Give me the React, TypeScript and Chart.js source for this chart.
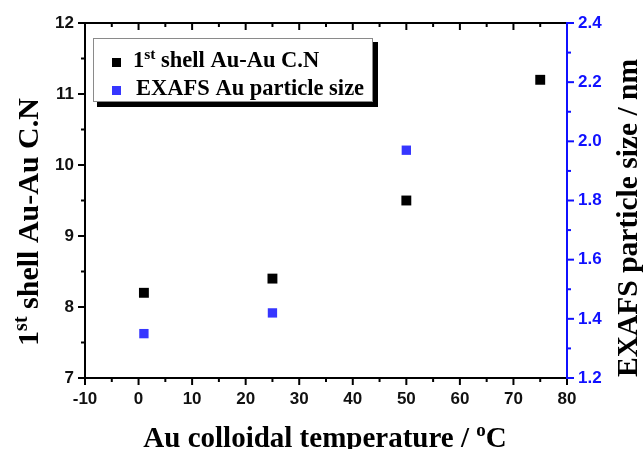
import React, { useEffect, useRef } from 'react';
import { Chart, registerables } from 'chart.js';

Chart.register(...registerables);

// ---- data ----
const cnTemperatures = [1, 25, 50, 75];
const coordinationNumbers = [8.2, 8.4, 9.5, 11.2];
const sizeTemperatures = [1, 25, 50];
const particleSizes = [1.35, 1.42, 1.97];

// ---- axis ranges / ticks ----
const xRange = [-10, 80];
const xStep = 10;
const leftRange = [7, 12];
const leftStep = 1;
const rightRange = [1.2, 2.4];
const rightStep = 0.2;

// ---- texts ----
const xTitleParts = [
  { text: 'Au colloidal temperature / ' },
  { text: 'o', sup: true },
  { text: 'C' },
];
const leftTitleParts = [
  { text: '1' },
  { text: 'st', sup: true },
  { text: ' shell Au-Au C.N' },
];
const rightTitleParts = [{ text: 'EXAFS particle size / nm' }];
const legendCnParts = [
  { text: '1' },
  { text: 'st', sup: true },
  { text: ' shell Au-Au C.N' },
];
const legendSizeParts = [{ text: 'EXAFS Au particle size' }];

const BLACK = '#000000';
const BLUE_POINT = '#3636ff';
const BLUE_AXIS = '#1010ff';
const SERIF = '"Liberation Serif", "Times New Roman", serif';
const SANS = '"Liberation Sans", Arial, sans-serif';

type Part = { text: string; sup?: boolean };

function richWidth(ctx: CanvasRenderingContext2D, parts: Part[], big: number, small: number) {
  let w = 0;
  for (const p of parts) {
    ctx.font = `bold ${p.sup ? small : big}px ${SERIF}`;
    w += ctx.measureText(p.text).width;
  }
  return w;
}

function drawRich(
  ctx: CanvasRenderingContext2D,
  parts: Part[],
  x: number,
  y: number,
  big: number,
  small: number,
  rise: number,
  align: 'left' | 'center',
) {
  const total = richWidth(ctx, parts, big, small);
  let cx = align === 'center' ? x - total / 2 : x;
  ctx.textAlign = 'left';
  ctx.textBaseline = 'alphabetic';
  for (const p of parts) {
    ctx.font = `bold ${p.sup ? small : big}px ${SERIF}`;
    ctx.fillText(p.text, cx, p.sup ? y - rise : y);
    cx += ctx.measureText(p.text).width;
  }
}

const framePlugin = {
  id: 'frame',
  afterDraw(chart: any) {
    const { ctx, chartArea: a, scales } = chart;
    const sx = scales.x;
    const sy = scales.y;
    const sy1 = scales.y1;
    ctx.save();
    ctx.lineCap = 'butt';
    ctx.lineWidth = 2;

    const line = (x1: number, y1: number, x2: number, y2: number, color: string) => {
      ctx.strokeStyle = color;
      ctx.beginPath();
      ctx.moveTo(x1, y1);
      ctx.lineTo(x2, y2);
      ctx.stroke();
    };
    const withMinor = (ticks: any[]) => {
      const out: { v: number; major: boolean }[] = [];
      for (let i = 0; i < ticks.length; i++) {
        out.push({ v: ticks[i].value, major: true });
        if (i < ticks.length - 1) out.push({ v: (ticks[i].value + ticks[i + 1].value) / 2, major: false });
      }
      return out;
    };
    const MAJ = 7;
    const MIN = 4;

    // x ticks (bottom outward, top inward)
    for (const t of withMinor(sx.ticks)) {
      const px = sx.getPixelForValue(t.v);
      const len = t.major ? MAJ : MIN;
      line(px, a.bottom, px, a.bottom + len, BLACK);
      line(px, a.top, px, a.top + len, BLACK);
    }
    // left ticks
    for (const t of withMinor(sy.ticks)) {
      const py = sy.getPixelForValue(t.v);
      const len = t.major ? MAJ : MIN;
      line(a.left - len, py, a.left, py, BLACK);
    }
    // right ticks
    for (const t of withMinor(sy1.ticks)) {
      const py = sy1.getPixelForValue(t.v);
      const len = t.major ? MAJ : MIN;
      line(a.right, py, a.right + len, py, BLUE_AXIS);
    }
    // frame
    line(a.left - 1, a.top, a.right, a.top, BLACK);
    line(a.left - 1, a.bottom, a.right, a.bottom, BLACK);
    line(a.left, a.top, a.left, a.bottom + 1, BLACK);
    line(a.right, a.top - 1, a.right, a.bottom + 1, BLUE_AXIS);

    // legend
    const lx = a.left + 8;
    const ly = a.top + 15;
    const lw = 280;
    const lh = 64;
    ctx.fillStyle = BLACK;
    ctx.fillRect(lx + 4, ly + 4, lw + 1, lh + 1);
    ctx.fillStyle = '#ffffff';
    ctx.fillRect(lx, ly, lw, lh);
    ctx.lineWidth = 1;
    ctx.strokeStyle = '#8a8a8a';
    ctx.strokeRect(lx + 0.5, ly + 0.5, lw - 1, lh - 1);

    ctx.fillStyle = BLACK;
    ctx.fillRect(lx + 19, ly + 20, 9, 9);
    ctx.fillStyle = BLUE_POINT;
    ctx.fillRect(lx + 19, ly + 48, 9, 9);
    ctx.fillStyle = BLACK;
    drawRich(ctx, legendCnParts, lx + 40, ly + 29, 22.5, 15.5, 8, 'left');
    drawRich(ctx, legendSizeParts, lx + 43, ly + 57, 22.5, 15.5, 8, 'left');

    // axis titles
    ctx.fillStyle = BLACK;
    drawRich(ctx, xTitleParts, (a.left + a.right) / 2 - 1, chart.height - 2, 29, 19, 11, 'center');

    ctx.save();
    ctx.translate(38, 222);
    ctx.rotate(-Math.PI / 2);
    drawRich(ctx, leftTitleParts, 0, 0, 30, 20, 11, 'center');
    ctx.restore();

    ctx.save();
    ctx.translate(637, 218);
    ctx.rotate(-Math.PI / 2);
    drawRich(ctx, rightTitleParts, 0, 0, 29.5, 20, 11, 'center');
    ctx.restore();

    ctx.restore();
  },
};

export default function App() {
  const canvasRef = useRef<HTMLCanvasElement | null>(null);

  useEffect(() => {
    if (!canvasRef.current) return;
    const tickFont = { family: SANS, size: 17, weight: 'bold' as const };
    const chart = new Chart(canvasRef.current, {
      type: 'scatter',
      data: {
        datasets: [
          {
            label: '1st shell Au-Au C.N',
            data: cnTemperatures.map((t, i) => ({ x: t, y: coordinationNumbers[i] })),
            yAxisID: 'y',
            pointStyle: 'rect',
            pointRadius: 7,
            pointHoverRadius: 7,
            backgroundColor: BLACK,
            borderColor: BLACK,
            borderWidth: 0,
          },
          {
            label: 'EXAFS Au particle size',
            data: sizeTemperatures.map((t, i) => ({ x: t, y: particleSizes[i] })),
            yAxisID: 'y1',
            pointStyle: 'rect',
            pointRadius: 6.6,
            pointHoverRadius: 6.6,
            backgroundColor: BLUE_POINT,
            borderColor: BLUE_POINT,
            borderWidth: 0,
          },
        ],
      },
      options: {
        animation: false,
        responsive: true,
        maintainAspectRatio: false,
        layout: { padding: { top: 23, left: 0, right: 0, bottom: 0 } },
        plugins: {
          legend: { display: false },
          tooltip: { enabled: false },
          title: { display: false },
        },
        scales: {
          x: {
            type: 'linear',
            min: xRange[0],
            max: xRange[1],
            grid: { display: false, drawTicks: false },
            border: { display: false },
            ticks: { stepSize: xStep, color: '#111', font: tickFont, padding: 11, maxRotation: 0 },
            afterFit: (s: any) => {
              s.height = 71;
            },
          },
          y: {
            type: 'linear',
            position: 'left',
            min: leftRange[0],
            max: leftRange[1],
            grid: { display: false, drawTicks: false },
            border: { display: false },
            ticks: { stepSize: leftStep, color: '#111', font: tickFont, padding: 11 },
            afterFit: (s: any) => {
              s.width = 85;
            },
          },
          y1: {
            type: 'linear',
            position: 'right',
            min: rightRange[0],
            max: rightRange[1],
            grid: { display: false, drawTicks: false },
            border: { display: false },
            ticks: {
              stepSize: rightStep,
              color: BLUE_AXIS,
              font: tickFont,
              padding: 11,
              callback: (v: any) => Number(v).toFixed(1),
            },
            afterFit: (s: any) => {
              s.width = 77;
            },
          },
        },
      },
      plugins: [framePlugin],
    });
    return () => chart.destroy();
  }, []);

  return (
    <div style={{ position: 'absolute', left: 0, top: 0, width: 644, height: 449, background: '#fff' }}>
      <canvas ref={canvasRef} />
    </div>
  );
}
